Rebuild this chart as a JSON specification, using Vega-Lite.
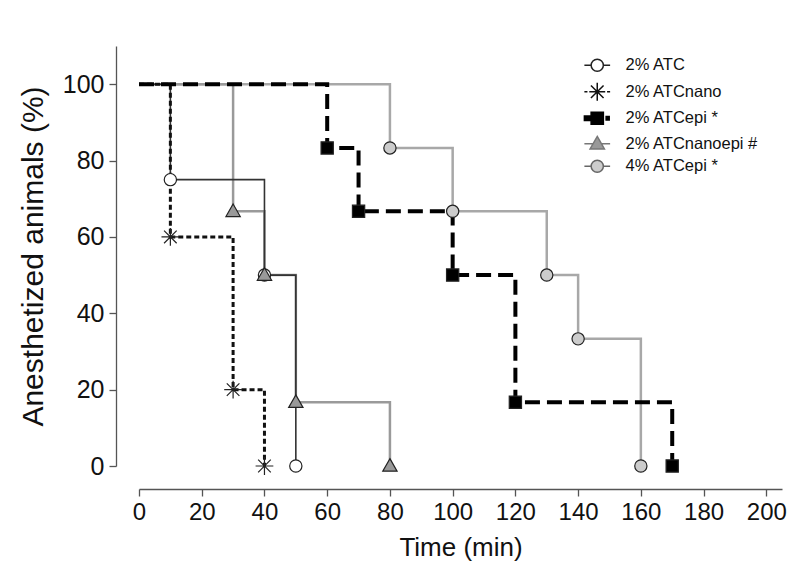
{
  "$schema": "https://vega.github.io/schema/vega-lite/v6.json",
  "width": 643,
  "height": 420,
  "autosize": {"type": "none"},
  "padding": {"left": 139, "top": 46, "right": 18, "bottom": 120},
  "background": "white",
  "config": {
    "view": {"stroke": null},
    "font": "Liberation Sans",
    "axis": {
      "grid": false,
      "domainColor": "#555555",
      "domainWidth": 1.3,
      "tickColor": "#555555",
      "tickWidth": 1.3,
      "tickSize": 7,
      "labelColor": "#111111",
      "titleColor": "#111111",
      "labelFont": "Liberation Sans",
      "titleFont": "Liberation Sans",
      "titleFontWeight": "normal"
    },
    "legend": {
      "labelFont": "Liberation Sans",
      "labelFontSize": 16.5,
      "labelColor": "#111111"
    }
  },
  "data": {
    "values": [
      {"group": "2% ATC", "time": 0, "pct": 100, "marker": false},
      {"group": "2% ATC", "time": 10, "pct": 75, "marker": true},
      {"group": "2% ATC", "time": 40, "pct": 50, "marker": true},
      {"group": "2% ATC", "time": 50, "pct": 0, "marker": true},
      {"group": "2% ATCnano", "time": 0, "pct": 100, "marker": false},
      {"group": "2% ATCnano", "time": 10, "pct": 60, "marker": true},
      {"group": "2% ATCnano", "time": 30, "pct": 20, "marker": true},
      {"group": "2% ATCnano", "time": 40, "pct": 0, "marker": true},
      {"group": "2% ATCepi *", "time": 0, "pct": 100, "marker": false},
      {"group": "2% ATCepi *", "time": 60, "pct": 83.3, "marker": true},
      {"group": "2% ATCepi *", "time": 70, "pct": 66.7, "marker": true},
      {"group": "2% ATCepi *", "time": 100, "pct": 50, "marker": true},
      {"group": "2% ATCepi *", "time": 120, "pct": 16.7, "marker": true},
      {"group": "2% ATCepi *", "time": 170, "pct": 0, "marker": true},
      {"group": "2% ATCnanoepi #", "time": 0, "pct": 100, "marker": false},
      {"group": "2% ATCnanoepi #", "time": 30, "pct": 66.7, "marker": true},
      {"group": "2% ATCnanoepi #", "time": 40, "pct": 50, "marker": true},
      {"group": "2% ATCnanoepi #", "time": 50, "pct": 16.7, "marker": true},
      {"group": "2% ATCnanoepi #", "time": 80, "pct": 0, "marker": true},
      {"group": "4% ATCepi *", "time": 0, "pct": 100, "marker": false},
      {"group": "4% ATCepi *", "time": 80, "pct": 83.3, "marker": true},
      {"group": "4% ATCepi *", "time": 100, "pct": 66.7, "marker": true},
      {"group": "4% ATCepi *", "time": 130, "pct": 50, "marker": true},
      {"group": "4% ATCepi *", "time": 140, "pct": 33.3, "marker": true},
      {"group": "4% ATCepi *", "time": 160, "pct": 0, "marker": true}
    ]
  },
  "encoding": {
    "x": {
      "field": "time", "type": "quantitative",
      "scale": {"domain": [0, 205], "nice": false, "zero": false},
      "axis": {
        "title": "Time (min)", "titleFontSize": 26, "titlePadding": 10,
        "labelFontSize": 24, "labelPadding": 4, "offset": 23,
        "values": [0, 20, 40, 60, 80, 100, 120, 140, 160, 180, 200],
        "labelFlush": false, "labelOverlap": false
      }
    },
    "y": {
      "field": "pct", "type": "quantitative",
      "scale": {"domain": [0, 110], "nice": false},
      "axis": {
        "title": "Anesthetized animals (%)", "titleFontSize": 30, "titlePadding": 14,
        "labelFontSize": 25, "labelPadding": 5, "offset": 23,
        "values": [0, 20, 40, 60, 80, 100],
        "labelFlush": false, "labelOverlap": false
      }
    }
  },
  "resolve": {"scale": {"shape": "independent", "fill": "independent", "stroke": "independent"}},
  "layer": [
    {
      "transform": [{"filter": "datum.group === '4% ATCepi *'"}],
      "mark": {"type": "line", "interpolate": "step-after", "stroke": "#a8a8a8", "strokeWidth": 2.5}
    },
    {
      "transform": [{"filter": "datum.group === '2% ATCnanoepi #'"}],
      "mark": {"type": "line", "interpolate": "step-after", "stroke": "#9a9a9a", "strokeWidth": 2.5}
    },
    {
      "transform": [{"filter": "datum.group === '2% ATC'"}],
      "mark": {"type": "line", "interpolate": "step-after", "stroke": "#333333", "strokeWidth": 1.6}
    },
    {
      "transform": [{"filter": "datum.group === '2% ATCnano'"}],
      "mark": {"type": "line", "interpolate": "step-after", "stroke": "#111111", "strokeWidth": 3, "strokeDash": [5, 3]}
    },
    {
      "transform": [{"filter": "datum.group === '2% ATCepi *'"}],
      "mark": {"type": "line", "interpolate": "step-after", "stroke": "#000000", "strokeWidth": 4, "strokeDash": [15, 7]}
    },
    {
      "transform": [{"filter": "datum.marker"}],
      "mark": {"type": "point", "filled": false, "size": 150, "stroke": "#222222", "strokeWidth": 1.2, "opacity": 1},
      "encoding": {
        "shape": {
          "field": "group", "type": "nominal",
          "scale": {
            "domain": ["2% ATC", "2% ATCnano", "2% ATCepi *", "2% ATCnanoepi #", "4% ATCepi *"],
            "range": [
              "circle",
              "M-1.45,0L1.45,0M0,-1.45L0,1.45M-1.03,-1.03L1.03,1.03M-1.03,1.03L1.03,-1.03",
              "square",
              "M0,-1.2L1.17,0.85L-1.17,0.85Z",
              "circle"
            ]
          },
          "legend": null
        },
        "fill": {
          "field": "group", "type": "nominal",
          "scale": {
            "domain": ["2% ATC", "2% ATCnano", "2% ATCepi *", "2% ATCnanoepi #", "4% ATCepi *"],
            "range": ["#ffffff", "#000000", "#000000", "#999999", "#cccccc"]
          },
          "legend": null
        }
      }
    },
    {
      "transform": [{"filter": "false"}],
      "mark": {"type": "point", "filled": false, "size": 150, "strokeWidth": 1.2, "opacity": 1},
      "encoding": {
        "shape": {
          "field": "group", "type": "nominal",
          "scale": {
            "domain": ["2% ATC", "2% ATCnano", "2% ATCepi *", "2% ATCnanoepi #", "4% ATCepi *"],
            "range": [
              "M-2.1,0L-1,0M1,0L2.1,0M1,0A1,1,0,1,1,-1,0A1,1,0,1,1,1,0Z",
              "M-2.1,0L-1.6,0M-1.3,0L1.3,0M1.6,0L2.1,0M0,-1.45L0,1.45M-1.03,-1.03L1.03,1.03M-1.03,1.03L1.03,-1.03",
              "M-2.1,-0.35L-1,-0.35L-1,0.35L-2.1,0.35ZM-1,-1L1,-1L1,1L-1,1ZM1.45,-0.3L1.95,-0.3L1.95,0.3L1.45,0.3Z",
              "M-2.1,0L-0.75,0M0.75,0L2.1,0M0,-1.2L1.17,0.85L-1.17,0.85Z",
              "M-2.1,0L-1,0M1,0L2.1,0M1,0A1,1,0,1,1,-1,0A1,1,0,1,1,1,0Z"
            ]
          },
          "legend": {
            "title": null, "orient": "none", "legendX": 450, "legendY": 11,
            "symbolSize": 150, "labelOffset": 20, "rowPadding": 4.5, "labelFontSize": 16.5
          }
        },
        "fill": {
          "field": "group", "type": "nominal",
          "scale": {
            "domain": ["2% ATC", "2% ATCnano", "2% ATCepi *", "2% ATCnanoepi #", "4% ATCepi *"],
            "range": ["#ffffff", "#000000", "#000000", "#999999", "#cccccc"]
          },
          "legend": {
            "title": null, "orient": "none", "legendX": 450, "legendY": 11,
            "symbolSize": 150, "labelOffset": 20, "rowPadding": 4.5, "labelFontSize": 16.5
          }
        },
        "stroke": {
          "field": "group", "type": "nominal",
          "scale": {
            "domain": ["2% ATC", "2% ATCnano", "2% ATCepi *", "2% ATCnanoepi #", "4% ATCepi *"],
            "range": ["#222222", "#111111", "#000000", "#777777", "#666666"]
          },
          "legend": {
            "title": null, "orient": "none", "legendX": 450, "legendY": 11,
            "symbolSize": 150, "labelOffset": 20, "rowPadding": 4.5, "labelFontSize": 16.5
          }
        }
      }
    }
  ]
}
